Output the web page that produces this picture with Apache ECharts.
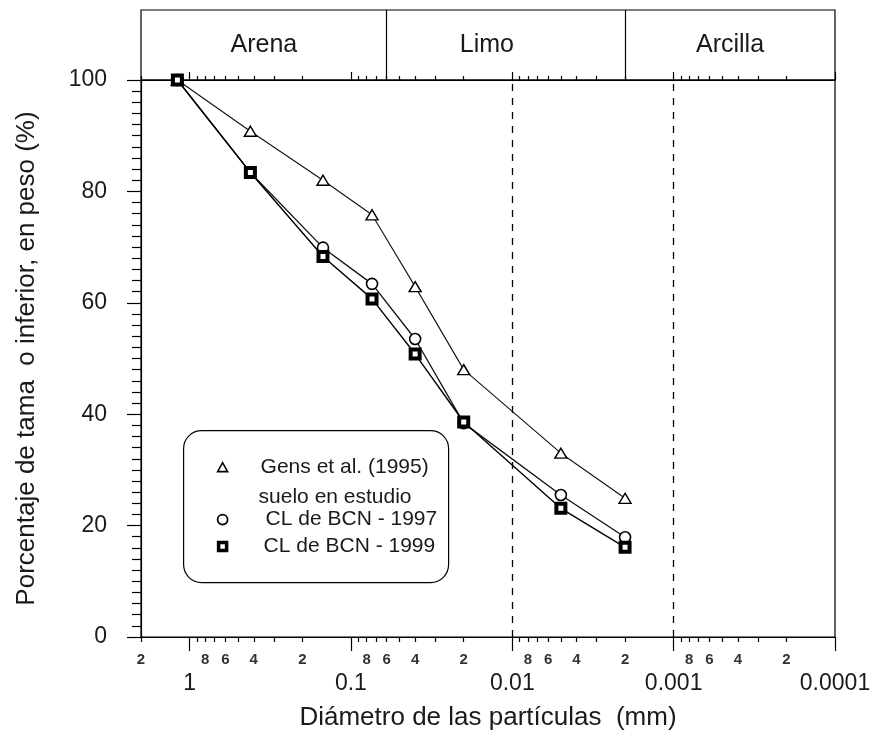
<!DOCTYPE html>
<html>
<head>
<meta charset="utf-8">
<script src="https://cdn.jsdelivr.net/npm/echarts@6/dist/echarts.min.js"></script>
<style>
  html, body { margin: 0; padding: 0; background: #fff; }
  #chart { width: 877px; height: 741px; }
</style>
</head>
<body>
<div id="chart"></div>
<script>
// Particle diameters (mm) of each sieve / hydrometer reading
const diameters = [1.19, 0.42, 0.149, 0.074, 0.04, 0.02, 0.005, 0.002];

// Percentage finer by weight for each soil
const gens1995 = [100, 90.8, 82.0, 75.8, 62.9, 48.0, 33.0, 24.9];
const cl1997   = [100, 83.4, 69.9, 63.4, 53.5, 38.4, 25.5, 17.9];
const cl1999   = [100, 83.4, 68.3, 60.7, 50.8, 38.6, 23.1, 16.1];

const seriesNames = ['Gens et al. (1995)', 'CL de BCN - 1997', 'CL de BCN - 1999'];

// Grain size classes and their boundaries (mm)
const zoneNames  = ['Arena', 'Limo', 'Arcilla'];
const zoneBounds = [2, 0.06, 0.002, 0.0001];

// Dashed reference diameters (mm)
const refDiameters = [0.01, 0.001];

// Axis range (mm) and tick labels
const dMax = 2;
const dMin = 0.0001;
const decadeValues = [1, 0.1, 0.01, 0.001, 0.0001];
const decadeLabels = ['1', '0.1', '0.01', '0.001', '0.0001'];
const minorLabelDigits = [2, 4, 6, 8];
const yTicks = [0, 20, 40, 60, 80, 100];

const lg = v => Math.log10(v);
const xMin = lg(dMin);
const xMax = lg(dMax);

// tick positions k*10^n inside the range
const minorTickValues = [];
const minorLabelValues = [];
for (let n = 0; n >= -4; n--) {
  for (let k = 2; k <= 9; k++) {
    const d = k * Math.pow(10, n);
    if (d <= dMax * 1.0000001 && d >= dMin) {
      const v = (k === 2 && n === 0) ? xMax : lg(d);
      minorTickValues.push(v);
      if (minorLabelDigits.indexOf(k) >= 0) minorLabelValues.push(v);
    }
  }
}
const decadeTickValues = decadeValues.map(lg);

const FONT = "'Liberation Sans', Arial, sans-serif";
const INK = '#1a1a1a';
const AX = { color: '#000', width: 1.2 };

function pairs(vals) {
  return diameters.map((d, i) => [lg(d), vals[i]]);
}

function baseX(extra) {
  return Object.assign({
    type: 'value', inverse: true, min: xMin, max: xMax,
    gridIndex: 0, splitLine: { show: false }
  }, extra);
}

const chart = echarts.init(document.getElementById('chart'), null, { renderer: 'canvas' });

const option = {
  backgroundColor: '#fff',
  animation: false,
  textStyle: { fontFamily: FONT },
  grid: [
    { left: 141, right: 42, top: 80, bottom: 104, show: true, borderColor: '#000', borderWidth: 1.2, backgroundColor: 'transparent' },
    { left: 141, right: 42, top: 10, height: 70, show: true, borderColor: '#000', borderWidth: 1.2, backgroundColor: 'transparent' }
  ],
  xAxis: [
    // bottom: minor ticks with leading-digit labels
    baseX({
      position: 'bottom',
      axisLine: { show: true, onZero: false, lineStyle: AX },
      axisTick: { show: true, inside: false, length: 5, customValues: minorTickValues, lineStyle: AX },
      axisLabel: {
        show: true, customValues: minorLabelValues, margin: 15,
        fontSize: 15, fontWeight: 'bold', color: '#333', fontFamily: FONT,
        formatter: v => String(Math.round(Math.pow(10, v) / Math.pow(10, Math.floor(v + 1e-9))))
      }
    }),
    // bottom: decade ticks with decade labels
    baseX({
      position: 'bottom',
      axisLine: { show: false, onZero: false },
      axisTick: { show: true, inside: false, length: 14, customValues: decadeTickValues, lineStyle: AX },
      axisLabel: {
        show: true, customValues: decadeTickValues, margin: 35,
        fontSize: 23, color: INK, fontFamily: FONT,
        formatter: v => decadeLabels[Math.round(-v)]
      },
      name: 'Diámetro de las partículas  (mm)',
      nameLocation: 'middle', nameGap: 68,
      nameTextStyle: { fontSize: 26, color: INK, fontFamily: FONT }
    }),
    // top: minor ticks
    baseX({
      position: 'top',
      axisLine: { show: true, onZero: false, lineStyle: AX },
      axisTick: { show: true, inside: false, length: 4, customValues: minorTickValues, lineStyle: AX },
      axisLabel: { show: false }
    }),
    // top: decade ticks
    baseX({
      position: 'top',
      axisLine: { show: false, onZero: false },
      axisTick: { show: true, inside: false, length: 8, customValues: decadeTickValues, lineStyle: AX },
      axisLabel: { show: false }
    }),
    // class band above the plot
    { type: 'value', inverse: true, min: xMin, max: xMax, gridIndex: 1, show: false }
  ],
  yAxis: [
    {
      type: 'value', gridIndex: 0, min: 0, max: 100, interval: 20,
      axisLine: { show: true, onZero: false, lineStyle: AX },
      axisTick: { show: true, inside: false, length: 14, lineStyle: AX },
      minorTick: { show: true, splitNumber: 10, length: 9, lineStyle: AX },
      splitLine: { show: false },
      minorSplitLine: { show: false },
      axisLabel: {
        margin: 34, fontSize: 23, color: INK, fontFamily: FONT,
        customValues: yTicks
      },
      name: 'Porcentaje de tama  o inferior, en peso (%)',
      nameLocation: 'middle', nameGap: 101,
      nameTextStyle: { fontSize: 26, color: INK, fontFamily: FONT }
    },
    { type: 'value', gridIndex: 1, min: 0, max: 1, show: false }
  ],
  series: [
    {
      name: 'zonas',
      type: 'line', xAxisIndex: 4, yAxisIndex: 1, data: [],
      silent: true,
      markLine: {
        silent: true, symbol: 'none',
        label: { show: false },
        lineStyle: { color: '#000', width: 1.2, type: 'solid' },
        data: zoneBounds.slice(1, -1).map(d => ({ xAxis: lg(d) }))
      },
      markArea: {
        silent: true,
        itemStyle: { color: 'transparent' },
        data: zoneNames.map((name, i) => [
          {
            name: name,
            xAxis: lg(zoneBounds[i]),
            label: {
              show: true, position: 'inside', fontSize: 25, color: INK, fontFamily: FONT,
              offset: name === 'Limo' ? [-19, 0] : [0, 0]
            }
          },
          { xAxis: lg(zoneBounds[i + 1]) }
        ])
      }
    },
    {
      name: 'referencias',
      type: 'line', xAxisIndex: 0, yAxisIndex: 0, data: [],
      silent: true,
      markLine: {
        silent: true, symbol: 'none',
        label: { show: false },
        lineStyle: { color: '#000', width: 1.3, type: [7, 7] },
        data: refDiameters.map(d => ({ xAxis: lg(d) }))
      }
    },
    {
      name: seriesNames[0],
      type: 'line', xAxisIndex: 0, yAxisIndex: 0,
      data: pairs(gens1995),
      symbol: 'triangle', symbolSize: [12, 10],
      itemStyle: { color: '#fff', borderColor: '#000', borderWidth: 1.4 },
      lineStyle: { color: '#111', width: 1.1 },
      z: 3
    },
    {
      name: seriesNames[1],
      type: 'line', xAxisIndex: 0, yAxisIndex: 0,
      data: pairs(cl1997),
      symbol: 'circle', symbolSize: 11,
      itemStyle: { color: '#fff', borderColor: '#000', borderWidth: 1.6 },
      lineStyle: { color: '#111', width: 1.3 },
      z: 4
    },
    {
      name: seriesNames[2],
      type: 'line', xAxisIndex: 0, yAxisIndex: 0,
      data: pairs(cl1999),
      symbol: 'rect', symbolSize: 9,
      itemStyle: { color: '#fff', borderColor: '#000', borderWidth: 4 },
      lineStyle: { color: '#000', width: 1.4 },
      z: 5
    }
  ],
  graphic: [
    {
      type: 'group', left: 183, top: 430,
      children: [
        { type: 'rect', shape: { x: 0, y: 0, width: 265, height: 152, r: 18 },
          style: { fill: '#fff', stroke: '#000', lineWidth: 1.2 } },
        { type: 'polygon', shape: { points: [[39, 32], [44, 41], [34, 41]] },
          style: { fill: '#fff', stroke: '#000', lineWidth: 1.6 } },
        { type: 'text', x: 77, y: 37,
          style: { text: seriesNames[0], fontSize: 21, fill: INK, font: '21px ' + FONT, verticalAlign: 'middle' } },
        { type: 'text', x: 75, y: 67,
          style: { text: 'suelo en estudio', fontSize: 21, fill: INK, font: '21px ' + FONT, verticalAlign: 'middle' } },
        { type: 'circle', shape: { cx: 39, cy: 89, r: 5 },
          style: { fill: '#fff', stroke: '#000', lineWidth: 1.8 } },
        { type: 'text', x: 82, y: 89,
          style: { text: seriesNames[1], fontSize: 21, fill: INK, font: '21px ' + FONT, verticalAlign: 'middle' } },
        { type: 'rect', shape: { x: 35, y: 112, width: 8, height: 8 },
          style: { fill: '#fff', stroke: '#000', lineWidth: 3.5 } },
        { type: 'text', x: 80, y: 116,
          style: { text: seriesNames[2], fontSize: 21, fill: INK, font: '21px ' + FONT, verticalAlign: 'middle' } }
      ]
    }
  ]
};

chart.setOption(option);
</script>
</body>
</html>
